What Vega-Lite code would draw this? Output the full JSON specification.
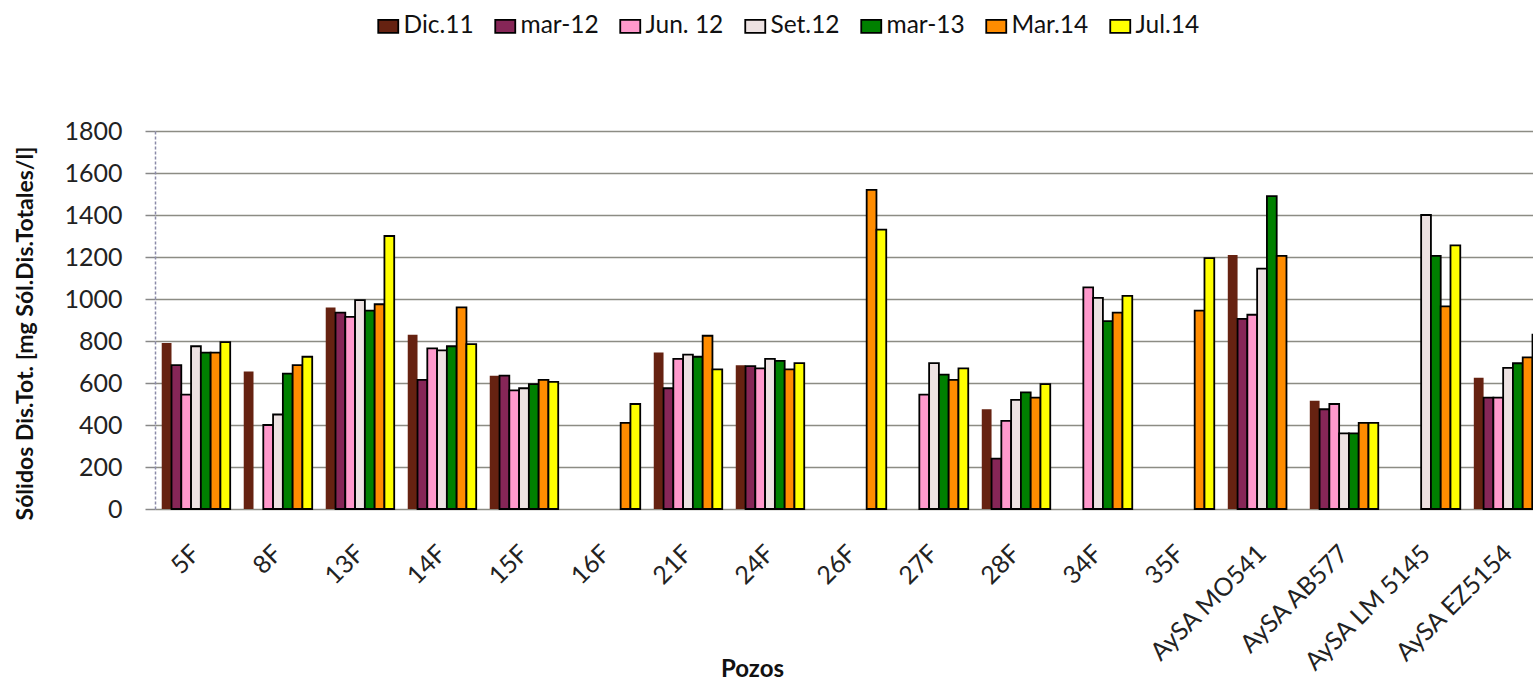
{
  "$schema": "https://vega.github.io/schema/vega-lite/v6.json",
  "width": 1378,
  "height": 378,
  "autosize": "none",
  "padding": {"left": 155, "top": 131, "right": 0, "bottom": 171},
  "background": "white",
  "config": {"view": {"stroke": null}, "font": "Lato"},
  "data": {"values": [
    {"pozo": "5F", "serie": "Dic.11", "valor": 790},
    {"pozo": "5F", "serie": "mar-12", "valor": 685},
    {"pozo": "5F", "serie": "Jun. 12", "valor": 545},
    {"pozo": "5F", "serie": "Set.12", "valor": 775},
    {"pozo": "5F", "serie": "mar-13", "valor": 745},
    {"pozo": "5F", "serie": "Mar.14", "valor": 745},
    {"pozo": "5F", "serie": "Jul.14", "valor": 795},
    {"pozo": "8F", "serie": "Dic.11", "valor": 655},
    {"pozo": "8F", "serie": "Jun. 12", "valor": 400},
    {"pozo": "8F", "serie": "Set.12", "valor": 450},
    {"pozo": "8F", "serie": "mar-13", "valor": 645},
    {"pozo": "8F", "serie": "Mar.14", "valor": 685},
    {"pozo": "8F", "serie": "Jul.14", "valor": 725},
    {"pozo": "13F", "serie": "Dic.11", "valor": 960},
    {"pozo": "13F", "serie": "mar-12", "valor": 935},
    {"pozo": "13F", "serie": "Jun. 12", "valor": 915},
    {"pozo": "13F", "serie": "Set.12", "valor": 995},
    {"pozo": "13F", "serie": "mar-13", "valor": 945},
    {"pozo": "13F", "serie": "Mar.14", "valor": 975},
    {"pozo": "13F", "serie": "Jul.14", "valor": 1300},
    {"pozo": "14F", "serie": "Dic.11", "valor": 830},
    {"pozo": "14F", "serie": "mar-12", "valor": 615},
    {"pozo": "14F", "serie": "Jun. 12", "valor": 765},
    {"pozo": "14F", "serie": "Set.12", "valor": 755},
    {"pozo": "14F", "serie": "mar-13", "valor": 775},
    {"pozo": "14F", "serie": "Mar.14", "valor": 960},
    {"pozo": "14F", "serie": "Jul.14", "valor": 785},
    {"pozo": "15F", "serie": "Dic.11", "valor": 635},
    {"pozo": "15F", "serie": "mar-12", "valor": 635},
    {"pozo": "15F", "serie": "Jun. 12", "valor": 565},
    {"pozo": "15F", "serie": "Set.12", "valor": 575},
    {"pozo": "15F", "serie": "mar-13", "valor": 595},
    {"pozo": "15F", "serie": "Mar.14", "valor": 615},
    {"pozo": "15F", "serie": "Jul.14", "valor": 605},
    {"pozo": "16F", "serie": "Mar.14", "valor": 410},
    {"pozo": "16F", "serie": "Jul.14", "valor": 500},
    {"pozo": "21F", "serie": "Dic.11", "valor": 745},
    {"pozo": "21F", "serie": "mar-12", "valor": 575},
    {"pozo": "21F", "serie": "Jun. 12", "valor": 715},
    {"pozo": "21F", "serie": "Set.12", "valor": 735},
    {"pozo": "21F", "serie": "mar-13", "valor": 725},
    {"pozo": "21F", "serie": "Mar.14", "valor": 825},
    {"pozo": "21F", "serie": "Jul.14", "valor": 665},
    {"pozo": "24F", "serie": "Dic.11", "valor": 685},
    {"pozo": "24F", "serie": "mar-12", "valor": 680},
    {"pozo": "24F", "serie": "Jun. 12", "valor": 670},
    {"pozo": "24F", "serie": "Set.12", "valor": 715},
    {"pozo": "24F", "serie": "mar-13", "valor": 705},
    {"pozo": "24F", "serie": "Mar.14", "valor": 665},
    {"pozo": "24F", "serie": "Jul.14", "valor": 695},
    {"pozo": "26F", "serie": "Mar.14", "valor": 1520},
    {"pozo": "26F", "serie": "Jul.14", "valor": 1330},
    {"pozo": "27F", "serie": "Jun. 12", "valor": 545},
    {"pozo": "27F", "serie": "Set.12", "valor": 695},
    {"pozo": "27F", "serie": "mar-13", "valor": 640},
    {"pozo": "27F", "serie": "Mar.14", "valor": 615},
    {"pozo": "27F", "serie": "Jul.14", "valor": 670},
    {"pozo": "28F", "serie": "Dic.11", "valor": 475},
    {"pozo": "28F", "serie": "mar-12", "valor": 240},
    {"pozo": "28F", "serie": "Jun. 12", "valor": 420},
    {"pozo": "28F", "serie": "Set.12", "valor": 520},
    {"pozo": "28F", "serie": "mar-13", "valor": 555},
    {"pozo": "28F", "serie": "Mar.14", "valor": 530},
    {"pozo": "28F", "serie": "Jul.14", "valor": 595},
    {"pozo": "34F", "serie": "Jun. 12", "valor": 1055},
    {"pozo": "34F", "serie": "Set.12", "valor": 1005},
    {"pozo": "34F", "serie": "mar-13", "valor": 895},
    {"pozo": "34F", "serie": "Mar.14", "valor": 935},
    {"pozo": "34F", "serie": "Jul.14", "valor": 1015},
    {"pozo": "35F", "serie": "Mar.14", "valor": 945},
    {"pozo": "35F", "serie": "Jul.14", "valor": 1195},
    {"pozo": "AySA MO541", "serie": "Dic.11", "valor": 1210},
    {"pozo": "AySA MO541", "serie": "mar-12", "valor": 905},
    {"pozo": "AySA MO541", "serie": "Jun. 12", "valor": 925},
    {"pozo": "AySA MO541", "serie": "Set.12", "valor": 1145},
    {"pozo": "AySA MO541", "serie": "mar-13", "valor": 1490},
    {"pozo": "AySA MO541", "serie": "Mar.14", "valor": 1205},
    {"pozo": "AySA AB577", "serie": "Dic.11", "valor": 515},
    {"pozo": "AySA AB577", "serie": "mar-12", "valor": 475},
    {"pozo": "AySA AB577", "serie": "Jun. 12", "valor": 500},
    {"pozo": "AySA AB577", "serie": "Set.12", "valor": 360},
    {"pozo": "AySA AB577", "serie": "mar-13", "valor": 360},
    {"pozo": "AySA AB577", "serie": "Mar.14", "valor": 410},
    {"pozo": "AySA AB577", "serie": "Jul.14", "valor": 410},
    {"pozo": "AySA LM 5145", "serie": "Set.12", "valor": 1400},
    {"pozo": "AySA LM 5145", "serie": "mar-13", "valor": 1205},
    {"pozo": "AySA LM 5145", "serie": "Mar.14", "valor": 965},
    {"pozo": "AySA LM 5145", "serie": "Jul.14", "valor": 1255},
    {"pozo": "AySA EZ5154", "serie": "Dic.11", "valor": 625},
    {"pozo": "AySA EZ5154", "serie": "mar-12", "valor": 530},
    {"pozo": "AySA EZ5154", "serie": "Jun. 12", "valor": 530},
    {"pozo": "AySA EZ5154", "serie": "Set.12", "valor": 672},
    {"pozo": "AySA EZ5154", "serie": "mar-13", "valor": 694},
    {"pozo": "AySA EZ5154", "serie": "Mar.14", "valor": 722},
    {"pozo": "AySA EZ5154", "serie": "Jul.14", "valor": 830}
  ]},
  "mark": {"type": "bar", "stroke": "black", "strokeWidth": 1.8},
  "encoding": {
    "x": {
      "field": "pozo", "type": "nominal", "sort": null,
      "scale": {"range": [0, 1394], "paddingInner": 0.165, "paddingOuter": 0.082},
      "axis": {
        "title": "Pozos", "titleFont": "Lato", "titleFontSize": 24, "titleFontWeight": "bold", "titleColor": "#111",
        "titleX": 597, "titleY": 167, "titleBaseline": "alphabetic", "titleAnchor": "middle",
        "labelAngle": -45, "labelAlign": "right", "labelBaseline": "middle",
        "labelFontSize": 25, "labelColor": "#222", "labelPadding": 40,
        "ticks": false, "domain": false, "grid": false
      }
    },
    "xOffset": {"field": "serie", "type": "nominal",
      "sort": ["Dic.11", "mar-12", "Jun. 12", "Set.12", "mar-13", "Mar.14", "Jul.14"],
      "scale": {"paddingInner": 0, "paddingOuter": 0}},
    "y": {
      "field": "valor", "type": "quantitative",
      "scale": {"domain": [0, 1800]},
      "axis": {
        "title": "Sólidos Dis.Tot. [mg Sól.Dis.Totales/l]", "titleFontSize": 23, "titleFontWeight": "bold", "titleColor": "#111",
        "titlePadding": 26, "titleY": 202,
        "values": [0, 200, 400, 600, 800, 1000, 1200, 1400, 1600, 1800],
        "format": "d",
        "labelFontSize": 25, "labelColor": "#222", "labelPadding": 23,
        "tickSize": 10, "tickColor": "#888", "tickWidth": 1.5,
        "domainColor": "#8a8aa8", "domainWidth": 1.5, "domainDash": [3, 2],
        "grid": true, "gridColor": "#8c8c84", "gridWidth": 1.6
      }
    },
    "color": {
      "field": "serie", "type": "nominal",
      "sort": ["Dic.11", "mar-12", "Jun. 12", "Set.12", "mar-13", "Mar.14", "Jul.14"],
      "scale": {
        "domain": ["Dic.11", "mar-12", "Jun. 12", "Set.12", "mar-13", "Mar.14", "Jul.14"],
        "range": ["#662211", "#862657", "#FF99CC", "#EDE2E2", "#008000", "#FF8C00", "#FFFF00"]
      },
      "legend": {
        "title": null, "orient": "none", "direction": "horizontal", "columns": 7,
        "legendX": 221, "legendY": -117,
        "symbolType": "M-1,-0.65H1V0.65H-1Z", "symbolSize": 400, "symbolStrokeColor": "black", "symbolStrokeWidth": 1.8,
        "labelFontSize": 24.5, "labelColor": "#111", "labelOffset": 3, "columnPadding": 17
      }
    },
    "strokeOpacity": {"condition": {"test": "datum.serie === 'Dic.11'", "value": 0}, "value": 1}
  }
}
